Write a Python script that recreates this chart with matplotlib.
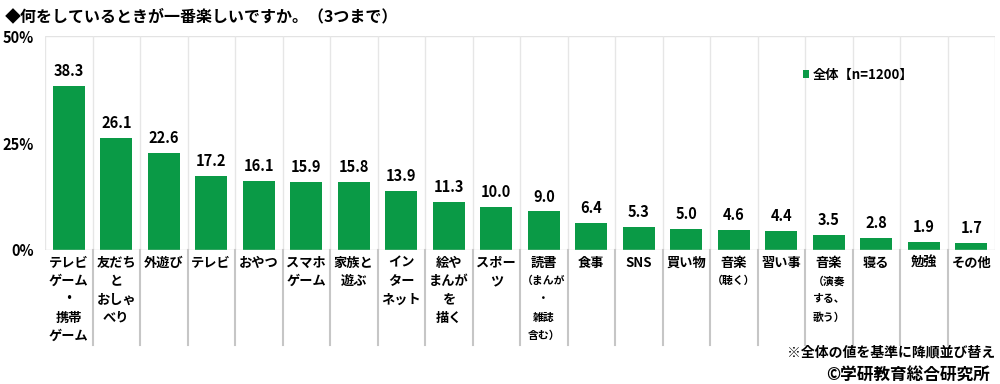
import matplotlib
matplotlib.use('Agg')
import matplotlib.pyplot as plt
import matplotlib.transforms as mtransforms
import numpy as np

plt.rcParams['font.family'] = ['Noto Sans CJK JP', 'DejaVu Sans']

# category labels: one list of lines per bar; lines in brackets drawn smaller
labels = [
    ['テレビ', 'ゲーム', '・', '携帯', 'ゲーム'],
    ['友だち', 'と', 'おしゃ', 'べり'],
    ['外遊び'],
    ['テレビ'],
    ['おやつ'],
    ['スマホ', 'ゲーム'],
    ['家族と', '遊ぶ'],
    ['イン', 'ター', 'ネット'],
    ['絵や', 'まんが', 'を', '描く'],
    ['スポー', 'ツ'],
    ['読書', '（まんが', '・', '雑誌', '含む）'],
    ['食事'],
    ['SNS'],
    ['買い物'],
    ['音楽', '（聴く）'],
    ['習い事'],
    ['音楽', '（演奏', 'する、', '歌う）'],
    ['寝る'],
    ['勉強'],
    ['その他'],
]
small_lines = {10: [1, 2, 3, 4], 14: [1], 16: [1, 2, 3]}
values = [38.3, 26.1, 22.6, 17.2, 16.1, 15.9, 15.8, 13.9, 11.3, 10.0,
          9.0, 6.4, 5.3, 5.0, 4.6, 4.4, 3.5, 2.8, 1.9, 1.7]
series_name = '全体【n=1200】'
yticks = [0, 25, 50]
ytick_labels = ['0%', '25%', '50%']

green = '#0a9a46'
fig = plt.figure(figsize=(10, 3.84), dpi=100)
ax = fig.add_axes([0.045, 0.349, 0.95, 0.557])

x = np.arange(len(values))
bars = ax.bar(x, values, width=0.67, color=green, label=series_name, zorder=3)
for xi, v in zip(x, values):
    ax.annotate(f'{v:.1f}', (xi, v), xytext=(0, 5), textcoords='offset points',
                ha='center', va='bottom', fontsize=10.5, fontweight='bold')

ax.set_xlim(-0.5, len(values) - 0.5)
ax.set_ylim(0, 50)
ax.set_yticks(yticks)
ax.set_yticklabels(ytick_labels, fontsize=10.5, fontweight='bold')
ax.set_xticks([])
ax.tick_params(axis='y', length=0, pad=8)
for s in ax.spines.values():
    s.set_visible(False)

# grid: top and bottom lines, vertical separators
ax.axhline(50, color='#e3e3e3', lw=1, zorder=1)
ax.axhline(0, color='#d9d9d9', lw=1, zorder=4)
for b in np.arange(-0.5, len(values), 1.0):
    ax.axvline(b, color='#e6e6e6', lw=1, zorder=1)

trans = mtransforms.blended_transform_factory(ax.transData, ax.transAxes)
for b in np.arange(0.5, len(values) - 1, 1.0):
    ax.plot([b, b], [0, -0.444], color='#c6c6c6', lw=1.5, transform=trans, clip_on=False)

# multi-line category labels
line_step = 18.3 / 214
for i, lines in enumerate(labels):
    for j, line in enumerate(lines):
        small = j in small_lines.get(i, [])
        ax.text(i, -0.06 - j * line_step, line, transform=trans, ha='center', va='center',
                fontsize=7.8 if small else 9.5, fontweight='bold')

ax.legend(loc='center left', bbox_to_anchor=(0.785, 0.82), frameon=False,
          handlelength=0.5, handleheight=0.5, handletextpad=0.3,
          prop={'size': 9.5, 'weight': 'bold'})

fig.text(0.005, 0.958, '◆何をしているときが一番楽しいですか。（3つまで）',
         fontsize=11.5, fontweight='bold', va='center', ha='left')
fig.text(0.995, 0.081, '※全体の値を基準に降順並び替え', fontsize=10, fontweight='bold',
         va='center', ha='right')
fig.text(0.99, 0.025, '©学研教育総合研究所', fontsize=12, fontweight='bold',
         va='center', ha='right')

fig.savefig('out.png', dpi=100)
